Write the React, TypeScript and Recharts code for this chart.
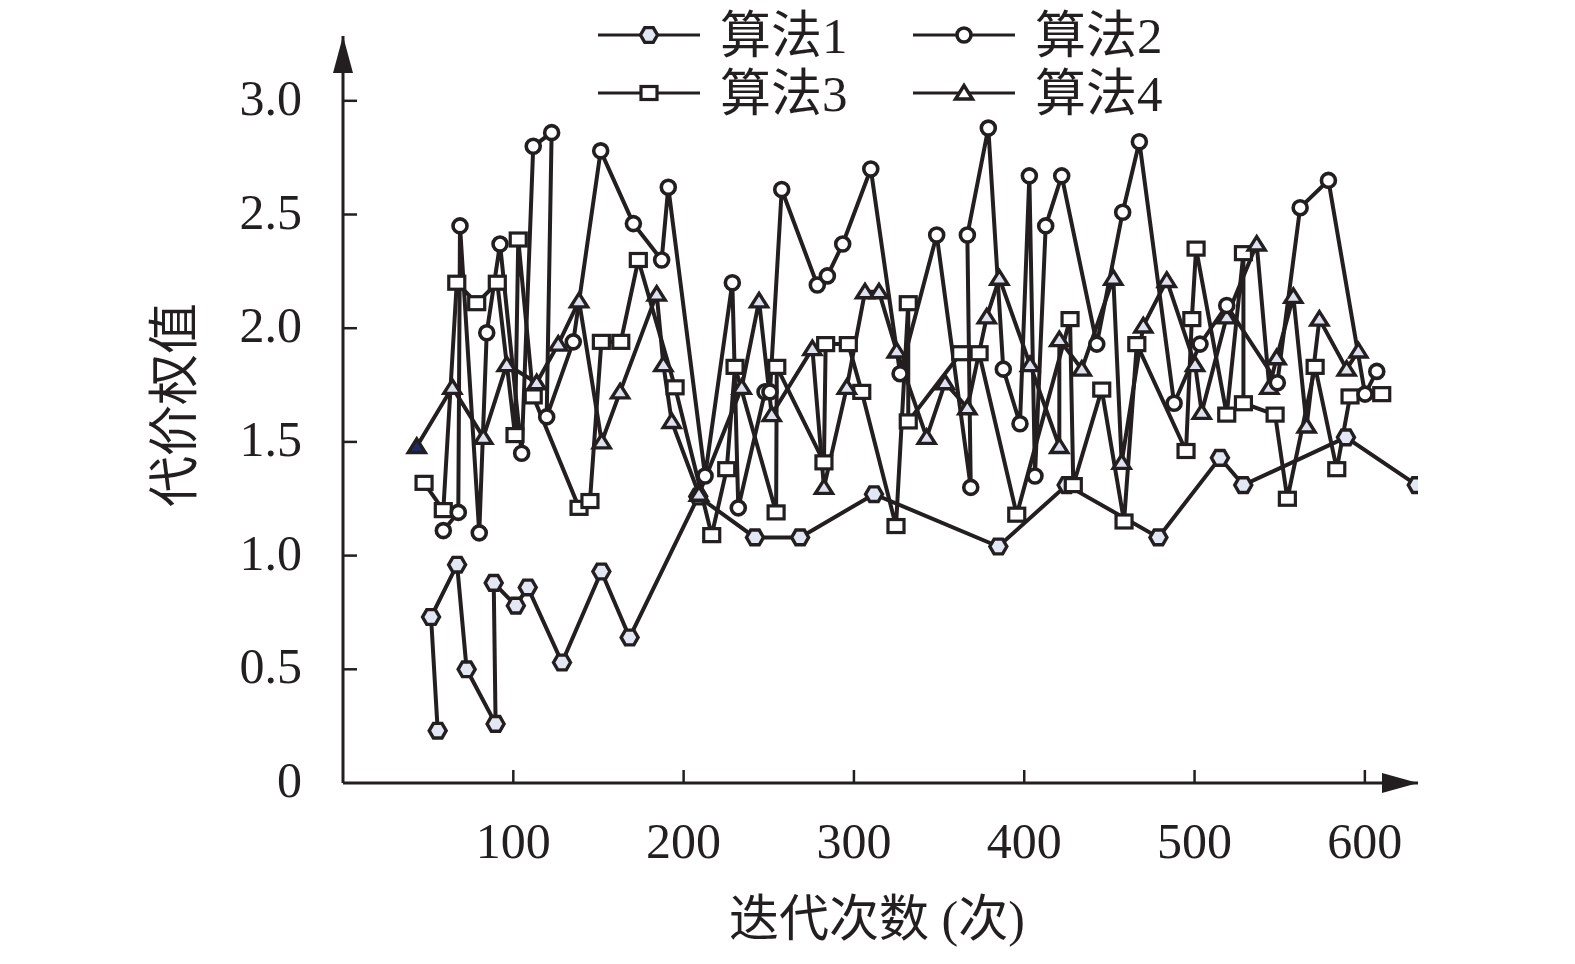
import { LineChart, Line, XAxis, YAxis, ReferenceDot } from "recharts";

// 算法1 (hexagon markers, the low curve)
const algo1X = [55.6, 51.7, 67.0, 72.6, 89.6, 88.5, 101.5, 108.5, 128.6, 151.7, 168.3, 208.6, 241.9, 268.4, 311.8, 384.8, 424.9, 478.8, 514.9, 528.6, 588.9, 630.5];
const algo1Y = [0.23, 0.73, 0.96, 0.5, 0.26, 0.88, 0.78, 0.86, 0.53, 0.93, 0.64, 1.26, 1.08, 1.08, 1.27, 1.04, 1.31, 1.08, 1.43, 1.31, 1.52, 1.31];

// 算法2 (circle markers)
const algo2X = [58.9, 67.7, 68.7, 80.0, 84.4, 92.2, 104.9, 111.7, 122.5, 119.6, 135.2, 151.3, 170.5, 187.1, 191.0, 212.6, 228.6, 232.1, 247.8, 250.7, 257.6, 278.5, 284.4, 293.4, 309.9, 327.1, 348.6, 368.6, 366.6, 378.9, 387.7, 397.5, 403.0, 406.3, 412.6, 422.0, 442.6, 457.8, 467.6, 488.0, 503.2, 518.9, 548.6, 562.0, 578.6, 600.1, 607.0];
const algo2Y = [1.11, 1.19, 2.45, 1.1, 1.98, 2.37, 1.45, 2.8, 2.86, 1.61, 1.94, 2.78, 2.46, 2.3, 2.62, 1.35, 2.2, 1.21, 1.72, 1.72, 2.61, 2.19, 2.23, 2.37, 2.7, 1.8, 2.41, 1.3, 2.41, 2.88, 1.82, 1.58, 2.67, 1.35, 2.45, 2.67, 1.93, 2.51, 2.82, 1.67, 1.93, 2.1, 1.76, 2.53, 2.65, 1.71, 1.81];

// 算法3 (square markers)
const algo3X = [47.6, 58.9, 66.8, 78.5, 90.6, 101.0, 102.9, 111.7, 138.6, 145.0, 151.7, 163.1, 173.4, 195.0, 216.5, 225.3, 230.2, 254.3, 254.7, 282.4, 283.4, 296.7, 304.6, 324.7, 331.9, 331.9, 362.7, 373.5, 395.6, 426.9, 428.8, 445.5, 458.6, 466.1, 495.0, 498.4, 500.9, 518.9, 528.7, 528.7, 547.3, 554.5, 570.8, 583.5, 591.3, 609.9];
const algo3Y = [1.32, 1.2, 2.2, 2.11, 2.2, 1.53, 2.39, 1.7, 1.21, 1.24, 1.94, 1.94, 2.3, 1.74, 1.09, 1.38, 1.83, 1.19, 1.83, 1.41, 1.93, 1.93, 1.72, 1.13, 2.11, 1.59, 1.89, 1.89, 1.18, 2.04, 1.31, 1.73, 1.15, 1.93, 1.46, 2.04, 2.35, 1.62, 2.33, 1.67, 1.62, 1.25, 1.83, 1.38, 1.7, 1.71];

// 算法4 (triangle markers)
const algo4X = [43.3, 64.2, 82.4, 96.1, 113.7, 126.4, 138.6, 151.9, 162.7, 184.2, 188.1, 193.0, 209.0, 234.1, 244.3, 251.7, 275.6, 282.4, 295.8, 306.5, 314.7, 325.1, 342.7, 353.5, 366.6, 378.0, 385.4, 403.4, 420.6, 420.6, 433.8, 452.3, 457.2, 469.9, 483.7, 500.3, 504.2, 518.9, 536.5, 543.9, 548.2, 558.0, 565.8, 573.3, 589.3, 596.2];
const algo4Y = [1.48, 1.74, 1.52, 1.84, 1.76, 1.93, 2.12, 1.5, 1.72, 2.15, 1.84, 1.59, 1.27, 1.74, 2.12, 1.62, 1.91, 1.3, 1.74, 2.16, 2.16, 1.9, 1.52, 1.76, 1.65, 2.05, 2.22, 1.84, 1.48, 1.95, 1.82, 2.22, 1.41, 2.01, 2.21, 1.84, 1.63, 2.05, 2.37, 1.74, 1.87, 2.14, 1.57, 2.04, 1.82, 1.9];

const seriesNames = ["算法1", "算法2", "算法3", "算法4"];
const xTicks = [100, 200, 300, 400, 500, 600];
const yTicks = [0, 0.5, 1, 1.5, 2, 2.5, 3];
const yTickLabels = ["0", "0.5", "1.0", "1.5", "2.0", "2.5", "3.0"];
const xTitle = "迭代次数 (次)";
const yTitle = "代价权值";
const X_MAX = 631.2;
const Y_MAX = 3.285;

const INK = "#231f20";
const FONT = "'Liberation Serif', 'Noto Sans CJK SC', serif";
const LINE_W = 4;

const toPoints = (xs: number[], ys: number[]) => xs.map((x, i) => ({ x, y: ys[i] }));

type Kind = "hex" | "circle" | "square" | "tri";

function Marker({ kind, cx, cy, fill }: { kind: Kind; cx: number; cy: number; fill?: string }) {
  if (kind === "hex") {
    const r = 8.5;
    const pts = [0, 60, 120, 180, 240, 300]
      .map((a) => `${cx + r * Math.cos((a * Math.PI) / 180)},${cy + r * Math.sin((a * Math.PI) / 180)}`)
      .join(" ");
    return <polygon points={pts} fill="#e3e7f3" stroke={INK} strokeWidth={3.4} />;
  }
  if (kind === "circle") {
    return <circle cx={cx} cy={cy} r={7} fill="#fff" stroke={INK} strokeWidth={3.6} />;
  }
  if (kind === "square") {
    return <rect x={cx - 8} y={cy - 6.5} width={16} height={13} fill="#fff" stroke={INK} strokeWidth={3.2} />;
  }
  return (
    <polygon
      points={`${cx},${cy - 7.5} ${cx - 8.5},${cy + 6} ${cx + 8.5},${cy + 6}`}
      fill={fill || "#dfe2ee"}
      stroke={INK}
      strokeWidth={3.4}
    />
  );
}

const dotFor = (kind: Kind) => (p: any) => (
  <Marker
    key={`${kind}-${p.index}`}
    kind={kind}
    cx={p.cx}
    cy={p.cy}
    fill={kind === "tri" && p.index === 0 ? "#1f2a6b" : undefined}
  />
);

function XTick(props: any) {
  const { x, y, payload } = props;
  return (
    <g>
      <line x1={x} y1={y} x2={x} y2={y - 13} stroke={INK} strokeWidth={2.5} />
      <text x={x} y={y + 75} textAnchor="middle" fontSize={50} fontFamily={FONT} fill={INK}>
        {payload.value}
      </text>
    </g>
  );
}

function YTick(props: any) {
  const { x, y, payload, index } = props;
  return (
    <g>
      {payload.value !== 0 && <line x1={x} y1={y} x2={x + 14} y2={y} stroke={INK} strokeWidth={2.5} />}
      <text x={x - 41} y={y + 14} textAnchor="end" fontSize={50} fontFamily={FONT} fill={INK}>
        {yTickLabels[index]}
      </text>
    </g>
  );
}

const legendItems: { kind: Kind; x: number; y: number }[] = [
  { kind: "hex", x: 598, y: 35 },
  { kind: "circle", x: 913, y: 35 },
  { kind: "square", x: 598, y: 93 },
  { kind: "tri", x: 913, y: 93 },
];

export default function App() {
  return (
    <div style={{ position: "absolute", left: 0, top: 0, width: 1575, height: 964, background: "#fff" }}>
      <LineChart width={1575} height={964} margin={{ top: 36, right: 157, bottom: 180, left: 342 }}>
        <XAxis
          type="number"
          dataKey="x"
          domain={[0, X_MAX]}
          ticks={xTicks}
          interval={0}
          allowDataOverflow
          height={1}
          tickSize={0}
          tickMargin={0}
          tickLine={false}
          axisLine={{ stroke: INK, strokeWidth: 3 }}
          tick={XTick}
        />
        <YAxis
          type="number"
          domain={[0, Y_MAX]}
          ticks={yTicks}
          interval={0}
          allowDataOverflow
          width={1}
          tickSize={0}
          tickMargin={0}
          tickLine={false}
          axisLine={{ stroke: INK, strokeWidth: 3 }}
          tick={YTick}
        />
        <Line data={toPoints(algo1X, algo1Y)} dataKey="y" name={seriesNames[0]} type="linear" stroke={INK} strokeWidth={LINE_W} dot={dotFor("hex")} isAnimationActive={false} />
        <Line data={toPoints(algo3X, algo3Y)} dataKey="y" name={seriesNames[2]} type="linear" stroke={INK} strokeWidth={LINE_W} dot={dotFor("square")} isAnimationActive={false} />
        <Line data={toPoints(algo4X, algo4Y)} dataKey="y" name={seriesNames[3]} type="linear" stroke={INK} strokeWidth={LINE_W} dot={dotFor("tri")} isAnimationActive={false} />
        <Line data={toPoints(algo2X, algo2Y)} dataKey="y" name={seriesNames[1]} type="linear" stroke={INK} strokeWidth={LINE_W} dot={dotFor("circle")} isAnimationActive={false} />
        <ReferenceDot
          x={0}
          y={Y_MAX}
          r={0}
          ifOverflow="visible"
          shape={(p: any) => <polygon points={`${p.cx},${p.cy} ${p.cx - 10},${p.cy + 37} ${p.cx + 10},${p.cy + 37}`} fill={INK} />}
        />
        <ReferenceDot
          x={X_MAX}
          y={0}
          r={0}
          ifOverflow="visible"
          shape={(p: any) => <polygon points={`${p.cx},${p.cy} ${p.cx - 36},${p.cy - 10} ${p.cx - 36},${p.cy + 10}`} fill={INK} />}
        />
      </LineChart>
      <svg width={1575} height={964} style={{ position: "absolute", left: 0, top: 0, pointerEvents: "none" }}>
        {legendItems.map((it, i) => (
          <g key={i}>
            <line x1={it.x} y1={it.y} x2={it.x + 102} y2={it.y} stroke={INK} strokeWidth={3} />
            <Marker kind={it.kind} cx={it.x + 51} cy={it.y} fill={it.kind === "tri" ? "#fff" : undefined} />
            <text x={it.x + 122} y={it.y + 18} fontSize={51} fontFamily={FONT} fill={INK}>
              {seriesNames[["hex", "circle", "square", "tri"].indexOf(it.kind)]}
            </text>
          </g>
        ))}
        <text x={877} y={936} textAnchor="middle" fontSize={50} fontFamily={FONT} fill={INK}>
          {xTitle}
        </text>
        <text
          x={175}
          y={405}
          textAnchor="middle"
          dominantBaseline="central"
          fontSize={51}
          fontFamily={FONT}
          fill={INK}
          transform="rotate(-90 175 405)"
        >
          {yTitle}
        </text>
      </svg>
    </div>
  );
}
